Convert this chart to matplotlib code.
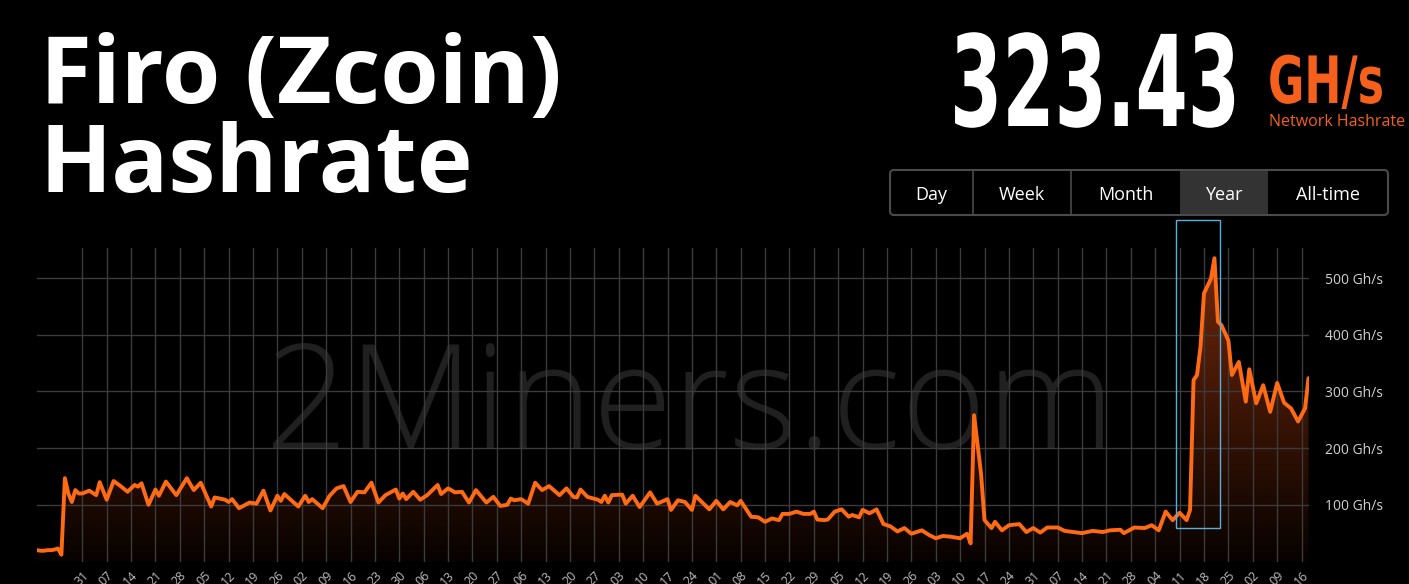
import numpy as np
import pandas as pd
import matplotlib
matplotlib.use("Agg")
import matplotlib.pyplot as plt
import matplotlib.dates as mdates
from matplotlib.patches import Rectangle, FancyBboxPatch
from matplotlib.colors import LinearSegmentedColormap
from matplotlib.transforms import IdentityTransform, Affine2D
from matplotlib.patheffects import AbstractPathEffect

# --- data (days counted from Sunday 2021-10-31) ---
anchor = pd.Timestamp("2021-10-31")
day_offsets = [
    -13, -12, -11, -10, -9, -8, -7, -6, -5, -4, -3, -2, -1, 0, 2, 4, 5, 7, 9, 11,
    13, 15, 16, 17, 19, 21, 22, 24, 27, 30, 32, 34, 37, 38, 41, 42, 43, 45, 48, 50,
    52, 54, 56, 57, 58, 62, 64, 65, 66, 69, 71, 73, 75, 77, 79, 81, 83, 85, 87, 90,
    91, 92, 93, 95, 97, 99, 102, 103, 105, 107, 109, 111, 113, 116, 118, 120, 122, 123, 124, 126,
    128, 130, 132, 134, 137, 139, 141, 142, 143, 145, 148, 149, 150, 151, 152, 155, 156, 158, 160, 163,
    165, 168, 169, 171, 173, 175, 176, 178, 180, 182, 184, 186, 188, 189, 192, 194, 196, 198, 200, 201,
    203, 205, 207, 209, 210, 211, 213, 214, 216, 218, 220, 221, 223, 224, 226, 228, 230, 232, 234, 236,
    238, 241, 243, 245, 247, 249, 252, 254, 255, 256, 258, 259, 261, 262, 264, 266, 269, 271, 273, 275,
    277, 280, 282, 287, 290, 293, 295, 298, 299, 302, 305, 307, 309, 311, 313, 315, 317, 318, 319, 320,
    321, 322, 324, 325, 326, 327, 329, 330, 332, 334, 335, 337, 339, 341, 343, 345, 347, 349, 351, 352,
]
hashrate = [
    20, 19, 19, 20, 20, 21, 23, 12, 147, 120, 105, 126, 120, 120, 125, 117, 140, 109, 142, 133,
    123, 135, 132, 138, 100, 127, 116, 141, 117, 147, 126, 139, 97, 113, 109, 105, 110, 94, 104, 102,
    125, 90, 116, 107, 119, 97, 116, 105, 110, 94, 116, 129, 133, 105, 123, 122, 139, 104, 117, 127,
    111, 120, 110, 123, 109, 117, 135, 119, 129, 122, 123, 104, 126, 104, 114, 98, 100, 111, 108, 110,
    102, 139, 126, 133, 117, 129, 114, 113, 127, 114, 109, 105, 116, 104, 117, 118, 102, 116, 96, 122,
    102, 110, 91, 108, 105, 91, 116, 104, 92, 107, 92, 105, 99, 107, 79, 78, 70, 76, 73, 84,
    84, 88, 84, 84, 88, 74, 73, 74, 88, 92, 79, 82, 78, 91, 85, 92, 66, 62, 53, 59,
    49, 55, 47, 41, 45, 44, 41, 49, 32, 258, 155, 73, 59, 70, 55, 64, 66, 52, 59, 51,
    60, 60, 54, 50, 54, 52, 55, 56, 50, 60, 59, 64, 55, 88, 73, 86, 73, 91, 320, 329,
    379, 473, 499, 535, 423, 417, 390, 329, 352, 282, 339, 279, 311, 264, 315, 280, 270, 247, 270, 323.43,
]
n_weeks = 51  # weekly grid lines from the anchor Sunday
current_rate = "323.43"
y_ticks = [100, 200, 300, 400, 500]
buttons = ["Day", "Week", "Month", "Year", "All-time"]
active_button = "Year"
# hovered bucket box (blue outline)
hl_start, hl_end = "2022-09-09 20:00", "2022-09-22 17:00"
hl_low, hl_high = 59, 602

dates = anchor + pd.to_timedelta(day_offsets, unit="D")
x = mdates.date2num(dates)
week_ticks = mdates.date2num(pd.date_range(anchor, periods=n_weeks, freq="7D"))

W, H = 1409, 584
ORANGE = "#ff6a14"
fig = plt.figure(figsize=(W / 100, H / 100), dpi=100, facecolor="black")


def fx(px):
    return px / W


def fy(py):
    return 1 - py / H


class Squeeze(AbstractPathEffect):
    """narrow the glyphs horizontally around a fixed pixel column"""

    def __init__(self, x0, sx=1.0):
        super().__init__()
        self.x0, self.sx = x0, sx

    def draw_path(self, renderer, gc, tpath, affine, rgbFace=None):
        a = affine + Affine2D().translate(-self.x0, 0).scale(self.sx, 1).translate(self.x0, 0)
        renderer.draw_path(gc, tpath, a, rgbFace)


ax = fig.add_axes([fx(37), fy(561.5), fx(1308.5) - fx(37), fy(248) - fy(561.5)])
ax.set_facecolor("none")
ymax = 553

# gradient fill under the curve
fill = ax.fill_between(x, hashrate, 0, color="none", lw=0)
cmap = LinearSegmentedColormap.from_list("fade", ["#080200", "#74290a"])
grad = np.linspace(0, 1, 256).reshape(-1, 1)
im = ax.imshow(grad, cmap=cmap, aspect="auto", origin="lower",
               extent=[x[0], x[-1], 0, ymax], zorder=1)
im.set_clip_path(fill.get_paths()[0], transform=ax.transData)

ax.plot(x, hashrate, color=ORANGE, lw=2.8, solid_joinstyle="round",
        solid_capstyle="round", zorder=3)

# highlight box
h0, h1 = mdates.date2num(pd.Timestamp(hl_start)), mdates.date2num(pd.Timestamp(hl_end))
ax.add_patch(Rectangle((h0, hl_low), h1 - h0, hl_high - hl_low, fill=False,
                       edgecolor="#5aaee0", lw=1, clip_on=False, zorder=5))

ax.set_xlim(x[0], x[-1])
ax.set_ylim(0, ymax)
ax.set_xticks(week_ticks)
ax.xaxis.set_major_formatter(mdates.DateFormatter("%d"))
ax.set_yticks(y_ticks)
ax.set_yticklabels([f"{v} Gh/s" for v in y_ticks])
ax.yaxis.tick_right()
ax.grid(True, color="#3b3b3b", lw=1)
ax.set_axisbelow("line")
for s in ax.spines.values():
    s.set_visible(False)
ax.tick_params(axis="y", length=0, pad=12, labelsize=10, labelcolor="#d0d0d0")
ax.tick_params(axis="x", length=0, pad=5, labelsize=9, labelcolor="#bdbdbd")
for lbl in ax.get_xticklabels():
    lbl.set_rotation(45)
    lbl.set_ha("right")
    lbl.set_rotation_mode("anchor")
for lbl in ax.get_xticklabels() + ax.get_yticklabels():
    lbl.set_family("Open Sans")

# watermark
wm = ax.text(fx(690), fy(449), "2Miners.com", transform=fig.transFigure, ha="center",
             va="baseline", color="#202020", fontsize=100, family="Open Sans",
             weight="light", zorder=0.5, clip_on=False)

# headings
t1 = fig.text(fx(40), fy(103), "Firo (Zcoin)", color="white", fontsize=68,
              family="Open Sans", weight="bold", va="baseline")
t2 = fig.text(fx(40), fy(192), "Hashrate", color="white", fontsize=68,
              family="Open Sans", weight="bold", va="baseline")
sq_big = Squeeze(1240)
sq_unit = Squeeze(1268)
big = fig.text(fx(1240), fy(126), current_rate, color="white", fontsize=91,
               family="DejaVu Sans", weight="bold", ha="right", va="baseline",
               path_effects=[sq_big])
unit = fig.text(fx(1268), fy(103), "GH/s", color="#f5601c", fontsize=47,
                family="DejaVu Sans", weight="bold", va="baseline",
                path_effects=[sq_unit])
sub = fig.text(fx(1405), fy(126), "Network Hashrate", color="#f5601c", fontsize=11,
               family="Open Sans", ha="right", va="baseline")

# buttons
edges = [890, 973, 1071, 1180, 1268, 1388]
top, bot = 170, 215
px = IdentityTransform()
for i, name in enumerate(buttons):
    if name == active_button:
        fig.add_artist(Rectangle((edges[i], H - bot), edges[i + 1] - edges[i], bot - top,
                                 facecolor="#333333", edgecolor="none", transform=px))
    fig.text(fx((edges[i] + edges[i + 1]) / 2), fy(200), name, color="white",
             fontsize=13, family="Open Sans", ha="center", va="baseline")
for e in edges[1:3]:
    fig.add_artist(Rectangle((e, H - bot), 0.01, bot - top, edgecolor="#4a4a4a",
                             lw=1.2, transform=px))
fig.add_artist(FancyBboxPatch((edges[0], H - bot), edges[-1] - edges[0], bot - top,
                              boxstyle="round,pad=0,rounding_size=4", fill=False,
                              edgecolor="#4a4a4a", lw=1.5, transform=px))

# fit text widths to the reference
fig.canvas.draw()
r = fig.canvas.get_renderer()


def fit(t, target):
    w = t.get_window_extent(r).width
    t.set_fontsize(t.get_fontsize() * target / w)


fit(t1, 522)
t2.set_fontsize(t1.get_fontsize())
fit(sub, 137)
fit(wm, 850)
sq_big.sx = 290 / big.get_window_extent(r).width
sq_unit.sx = 116 / unit.get_window_extent(r).width

fig.savefig("out.png", dpi=100, facecolor="black")
